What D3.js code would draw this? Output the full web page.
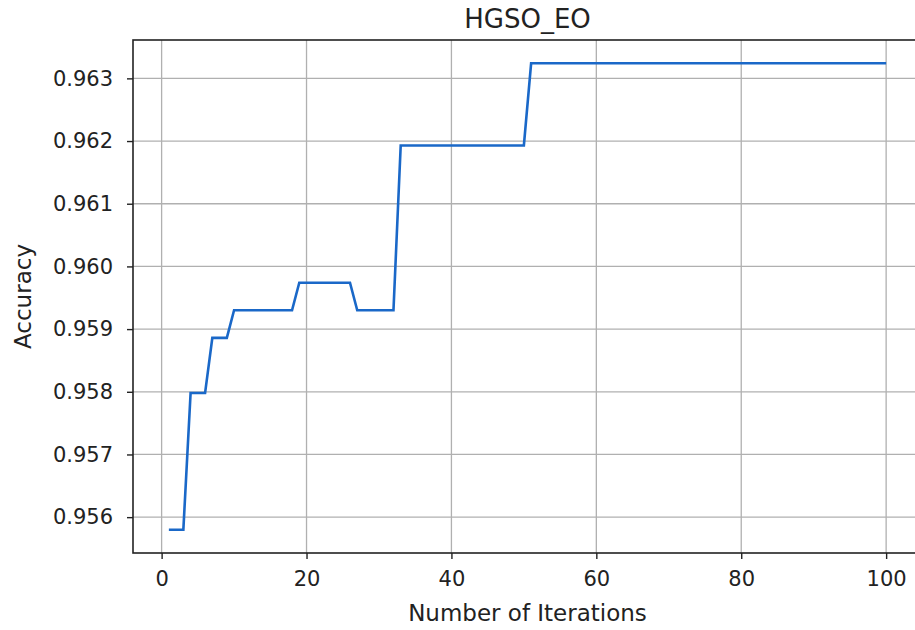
<!DOCTYPE html>
<html>
<head>
<meta charset="utf-8">
<script src="https://cdn.jsdelivr.net/npm/d3@7"></script>
<style>
    body { margin: 0; background: #fff; }
    #chart text { font-family: "DejaVu Sans", sans-serif; fill: #222; }
</style>
</head>
<body>
<div id="chart"></div>
<script>
// accuracy per iteration (iterations 1..100)
const iterations = d3.range(1, 101);
const accuracy = [
    0.95580, 0.95580, 0.95580,
    0.95798, 0.95798, 0.95798,
    0.95886, 0.95886, 0.95886,
    0.95930, 0.95930, 0.95930, 0.95930, 0.95930, 0.95930, 0.95930, 0.95930, 0.95930,
    0.95974, 0.95974, 0.95974, 0.95974, 0.95974, 0.95974, 0.95974, 0.95974,
    0.95930, 0.95930, 0.95930, 0.95930, 0.95930, 0.95930,
    0.96193, 0.96193, 0.96193, 0.96193, 0.96193, 0.96193, 0.96193, 0.96193, 0.96193,
    0.96193, 0.96193, 0.96193, 0.96193, 0.96193, 0.96193, 0.96193, 0.96193, 0.96193,
    0.96324, 0.96324, 0.96324, 0.96324, 0.96324, 0.96324, 0.96324, 0.96324, 0.96324, 0.96324,
    0.96324, 0.96324, 0.96324, 0.96324, 0.96324, 0.96324, 0.96324, 0.96324, 0.96324, 0.96324,
    0.96324, 0.96324, 0.96324, 0.96324, 0.96324, 0.96324, 0.96324, 0.96324, 0.96324, 0.96324,
    0.96324, 0.96324, 0.96324, 0.96324, 0.96324, 0.96324, 0.96324, 0.96324, 0.96324, 0.96324,
    0.96324, 0.96324, 0.96324, 0.96324, 0.96324, 0.96324, 0.96324, 0.96324, 0.96324, 0.96324
];
const xTicks = [0, 20, 40, 60, 80, 100];
const yTicks = [0.956, 0.957, 0.958, 0.959, 0.960, 0.961, 0.962, 0.963];

const titleText = 'HGSO_EO';
const xLabel = 'Number of Iterations';
const yLabel = 'Accuracy';

const data = iterations.map((it, i) => ({ it: it, acc: accuracy[i] }));

const totalWidth = 915;
const totalHeight = 630;
const margin = {top: 40, right: -7, bottom: 77, left: 133};
const width = totalWidth - margin.left - margin.right;
const height = totalHeight - margin.top - margin.bottom;

const svg = d3.select('#chart').append('svg')
    .attr('width', totalWidth)
    .attr('height', totalHeight)
    .style('display', 'block');

const g = svg.append('g')
    .attr('transform', `translate(${margin.left},${margin.top})`);

// matplotlib style 5% padding on each side
const xExt = d3.extent(iterations);
const xPad = (xExt[1] - xExt[0]) * 0.05;
const yExt = d3.extent(accuracy);
const yPad = (yExt[1] - yExt[0]) * 0.05;

const x = d3.scaleLinear()
    .domain([xExt[0] - xPad, xExt[1] + xPad])
    .range([0, width]);

const y = d3.scaleLinear()
    .domain([yExt[0] - yPad, yExt[1] + yPad])
    .range([height, 0]);

// grid
g.append('g')
    .selectAll('line')
    .data(xTicks)
    .enter()
    .append('line')
    .attr('x1', d => x(d))
    .attr('x2', d => x(d))
    .attr('y1', 0)
    .attr('y2', height)
    .attr('stroke', '#b0b0b0')
    .attr('stroke-width', 1.3);

g.append('g')
    .selectAll('line')
    .data(yTicks)
    .enter()
    .append('line')
    .attr('x1', 0)
    .attr('x2', width)
    .attr('y1', d => y(d))
    .attr('y2', d => y(d))
    .attr('stroke', '#b0b0b0')
    .attr('stroke-width', 1.3);

// line
const line = d3.line()
    .x(d => x(d.it))
    .y(d => y(d.acc));

g.append('path')
    .datum(data)
    .attr('fill', 'none')
    .attr('stroke', '#1a68c8')
    .attr('stroke-width', 2.6)
    .attr('stroke-linejoin', 'miter')
    .attr('d', line);

// spines
g.append('rect')
    .attr('x', 0)
    .attr('y', 0)
    .attr('width', width)
    .attr('height', height)
    .attr('fill', 'none')
    .attr('stroke', '#222')
    .attr('stroke-width', 1.6);

// axes
const xAxis = g.append('g')
    .attr('transform', `translate(0,${height})`)
    .call(d3.axisBottom(x).tickValues(xTicks).tickFormat(d3.format('d')).tickSize(6).tickPadding(12));

const yAxis = g.append('g')
    .call(d3.axisLeft(y).tickValues(yTicks).tickFormat(d3.format('.3f')).tickSize(6).tickPadding(14));

[xAxis, yAxis].forEach(ax => {
    ax.select('.domain').remove();
    ax.selectAll('.tick line').attr('stroke', '#222').attr('stroke-width', 1.4);
    ax.selectAll('.tick text').style('font-size', '21px');
});

// title and labels
svg.append('text')
    .attr('x', margin.left + width / 2)
    .attr('y', 28)
    .attr('text-anchor', 'middle')
    .style('font-size', '26px')
    .text(titleText);

svg.append('text')
    .attr('x', margin.left + width / 2)
    .attr('y', 621)
    .attr('text-anchor', 'middle')
    .style('font-size', '23px')
    .text(xLabel);

svg.append('text')
    .attr('transform', `translate(31,${margin.top + height / 2}) rotate(-90)`)
    .attr('text-anchor', 'middle')
    .style('font-size', '23px')
    .text(yLabel);
</script>
</body>
</html>
